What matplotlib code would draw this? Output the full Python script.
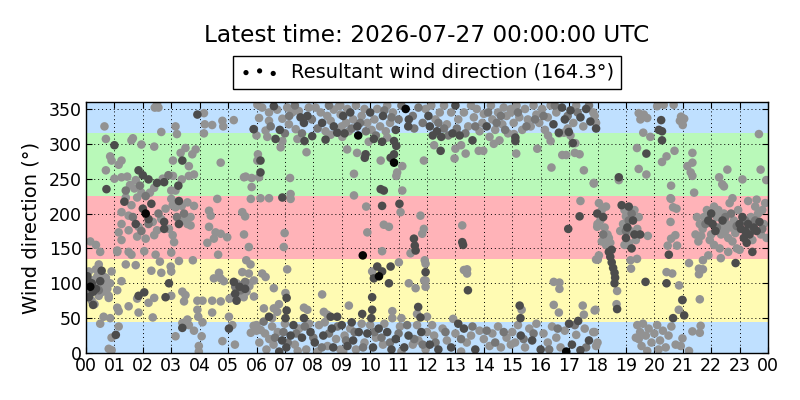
import matplotlib
matplotlib.use("Agg")
import matplotlib.pyplot as plt

# ---- data: (hour of day, wind direction deg, shade code) ----
# shade codes: 'l' light gray, 'm' mid gray, 'd' dark gray, 'k' black
obs_00_03 = [
    (2.42, 352), (2.55, 352), (2.5, 358), (0.65, 325), (2.65, 317), (0.7, 307), (1.6, 305), (1.65, 308),
    (1.0, 298, 'd'), (1.95, 299), (2.4, 296), (0.85, 282), (0.9, 276), (1.25, 276), (1.15, 270), (0.7, 262),
    (1.85, 262, 'd'), (1.0, 250), (1.25, 252), (1.45, 253), (1.75, 248), (2.0, 255, 'd'), (2.2, 249, 'd'),
    (2.7, 250), (2.75, 245, 'd'), (2.5, 244, 'd'), (0.72, 235, 'd'), (1.55, 241), (1.7, 236), (2.4, 237),
    (1.95, 230), (1.4, 223), (1.8, 223), (2.25, 230), (3.0, 233), (1.35, 217, 'd'), (1.6, 212), (2.3, 214, 'd'),
    (2.8, 207), (3.05, 212), (2.0, 207, 'd'), (1.25, 202), (2.1, 200, 'k'), (2.2, 192, 'd'), (1.5, 197),
    (2.65, 192), (2.75, 188, 'd'), (1.25, 185), (1.75, 185, 'd'), (2.35, 188), (1.5, 176), (1.85, 181),
    (2.5, 176), (1.15, 173), (2.75, 178, 'd'), (1.8, 167), (2.4, 169), (2.1, 164), (3.05, 169), (1.25, 162),
    (0.15, 160), (0.35, 155), (1.1, 147), (0.5, 145), (1.1, 145), (1.5, 145), (1.6, 141), (2.05, 146),
    (2.45, 141), (3.0, 144), (2.6, 131), (0.45, 127), (1.4, 127), (1.75, 126), (0.1, 117), (0.35, 120),
    (0.55, 118, 'd'), (0.9, 117), (2.3, 118), (2.65, 115), (3.0, 117),
    (0.05, 108), (0.1, 102, 'd'), (0.15, 95, 'k'), (0.2, 100, 'd'), (0.05, 90), (0.25, 88, 'd'), (0.3, 105),
    (0.35, 92, 'd'), (0.4, 98), (0.45, 82), (0.5, 103, 'd'), (0.55, 95), (0.6, 88), (0.65, 100), (0.7, 108),
    (0.75, 92), (0.8, 82), (0.85, 100), (0.1, 80, 'd'), (0.2, 75), (0.3, 70), (0.05, 110, 'd'), (0.4, 110),
    (0.6, 110), (1.1, 90), (1.25, 103), (1.85, 82, 'd'), (2.05, 87, 'd'), (1.8, 78), (2.8, 80, 'd'),
    (2.4, 79), (3.0, 82), (0.25, 69, 'd'), (0.8, 79), (1.5, 67), (1.1, 65), (2.2, 72), (1.15, 60),
    (0.62, 52), (0.85, 50), (0.5, 42), (1.85, 58), (2.35, 51), (1.15, 38), (1.05, 26, 'd'), (0.9, 22),
    (0.8, 6), (0.9, 4),
    (1.9, 240, 'm'), (2.1, 225, 'm'), (1.65, 195, 'm'), (2.55, 200, 'm'), (1.95, 175, 'm'), (0.2, 98, 'm'),
    (0.45, 90, 'm'), (0.15, 85, 'm'), (2.2, 185, 'm'), (1.4, 233, 'm'), (2.9, 255, 'm'),
]
obs_03_06 = [
    (3.92, 342, 'd'), (4.15, 344), (4.18, 328), (4.44, 327), (4.8, 333), (4.83, 325), (5.2, 334), (3.15, 325),
    (3.2, 314), (4.15, 315), (5.9, 321, 'd'), (6.0, 312), (3.5, 294), (3.86, 292), (3.33, 287), (3.74, 285),
    (3.06, 276), (3.39, 276, 'd'), (3.62, 268), (4.74, 273), (6.03, 276), (3.06, 254), (3.37, 249),
    (3.62, 254), (3.8, 256), (5.56, 252), (5.62, 253), (5.83, 251), (3.25, 240, 'd'), (3.15, 233),
    (5.83, 238), (3.0, 221), (3.27, 218, 'd'), (3.57, 216), (3.8, 211), (3.15, 209), (3.37, 211),
    (4.62, 221), (5.8, 221), (4.33, 204), (4.39, 197), (5.5, 202), (5.6, 196), (3.68, 195), (3.45, 190),
    (3.57, 185), (3.27, 185, 'd'), (3.68, 183), (2.92, 178), (4.33, 181), (4.56, 173), (4.74, 171),
    (4.97, 166), (5.56, 170), (3.1, 159), (4.27, 158), (4.5, 164), (5.73, 152), (4.65, 141), (3.27, 132),
    (3.76, 133), (5.64, 133), (5.79, 127), (2.98, 124), (4.68, 115), (5.5, 116), (5.73, 114), (4.5, 107),
    (4.74, 107), (4.85, 103),
    (5.2, 102, 'd'), (5.3, 100), (5.4, 95, 'd'), (5.5, 98), (5.6, 92, 'd'), (5.7, 100), (5.35, 90),
    (5.25, 85, 'd'), (5.45, 82), (5.55, 80), (5.65, 88), (5.75, 96), (5.15, 80), (5.3, 75, 'd'), (5.05, 78),
    (2.92, 100, 'd'), (3.39, 88), (3.5, 83), (3.45, 74), (3.92, 75), (4.1, 75), (4.44, 75), (4.74, 74),
    (3.92, 62), (4.44, 58), (5.03, 52), (3.95, 52), (3.57, 48), (3.39, 43), (3.62, 40), (3.8, 32),
    (4.1, 44), (3.39, 36, 'd'), (3.15, 24), (4.07, 24), (5.03, 35, 'd'), (5.15, 40), (4.8, 17), (5.24, 12),
    (5.9, 39), (6.0, 32), (3.97, 10), (3.97, 2), (5.8, 29),
    (5.45, 90, 'm'), (5.6, 102, 'm'), (5.25, 95, 'm'), (3.45, 200, 'm'), (3.2, 195, 'm'),
]
obs_06_09 = [
    (6.03, 356), (6.2, 352), (6.44, 345), (6.61, 354, 'd'), (6.44, 333), (6.09, 337), (5.91, 321),
    (6.32, 319), (6.38, 310), (6.67, 307, 'd'), (6.82, 320, 'd'), (6.91, 304), (6.73, 349), (6.91, 336),
    (7.08, 352), (7.26, 345), (7.49, 347), (7.55, 338, 'd'), (7.67, 330, 'd'), (7.79, 340, 'd'), (7.84, 352),
    (7.14, 328), (7.38, 321), (7.44, 307), (7.69, 304, 'd'), (7.96, 311, 'd'), (8.08, 352), (8.26, 345),
    (8.31, 330, 'd'), (8.49, 340), (8.61, 333), (8.72, 325, 'd'), (8.43, 318), (8.43, 306, 'd'), (8.61, 313),
    (8.84, 316, 'd'), (8.96, 342), (8.9, 354), (8.72, 349),
    (6.05, 285), (6.14, 276, 'd'), (6.14, 259, 'd'), (6.09, 252), (6.85, 295), (7.76, 288), (7.18, 251),
    (6.14, 222), (6.44, 222), (6.91, 223, 'd'), (7.2, 228), (7.2, 221), (6.99, 172), (6.96, 152),
    (7.08, 120), (6.2, 114), (6.32, 109), (5.91, 104), (6.61, 93), (7.02, 86), (7.06, 79, 'd'), (5.91, 81),
    (8.31, 84), (6.26, 64), (6.79, 70), (6.61, 64), (6.73, 59), (7.06, 61, 'd'), (7.67, 65), (7.79, 62),
    (8.37, 59), (6.44, 52, 'd'), (6.55, 50), (7.02, 50, 'd'), (7.67, 50, 'd'), (8.49, 55), (8.61, 52, 'd'),
    (8.84, 52, 'd'),
    (6.0, 40), (6.15, 33), (6.3, 28), (6.45, 20), (6.6, 12), (6.75, 30), (6.9, 18, 'd'), (7.05, 8, 'd'),
    (7.2, 25, 'd'), (7.35, 12), (7.5, 35), (7.6, 22, 'd'), (7.75, 5), (7.9, 30, 'd'), (8.05, 15, 'd'),
    (8.2, 40), (8.35, 25, 'd'), (8.5, 10), (8.65, 35, 'd'), (8.8, 20), (8.95, 5), (6.1, 15), (6.55, 38),
    (7.0, 42), (7.3, 40, 'd'), (7.45, 3), (7.85, 42), (8.15, 2), (8.4, 44), (8.7, 8, 'd'), (6.35, 5),
    (6.8, 2, 'd'),
    (7.15, 340, 'm'), (7.35, 355, 'm'), (7.6, 315, 'm'), (7.95, 335, 'm'), (8.15, 322, 'm'), (8.55, 355, 'm'),
    (6.5, 325, 'm'), (7.0, 315, 'm'), (6.95, 30, 'm'), (7.1, 15, 'm'), (7.4, 28, 'm'), (7.7, 38, 'm'),
    (8.0, 22, 'm'), (8.3, 8, 'm'), (8.55, 28, 'm'), (8.85, 38, 'm'), (6.65, 22, 'm'), (6.25, 45, 'm'),
]
obs_09_12 = [
    (8.95, 355), (9.05, 340, 'd'), (9.0, 325), (9.15, 330), (9.2, 350), (9.3, 345, 'd'), (9.4, 335),
    (9.5, 355), (9.55, 325, 'd'), (9.58, 312, 'k'), (9.1, 315, 'd'), (9.25, 318), (9.7, 340), (9.8, 350),
    (9.9, 330), (10.0, 345, 'd'), (10.05, 320), (10.15, 335), (10.25, 350), (10.35, 325), (10.45, 340, 'd'),
    (10.55, 318), (10.6, 355), (10.7, 330), (10.8, 345), (10.9, 320, 'd'), (11.25, 350, 'k'),
    (11.36, 335, 'd'), (11.34, 325, 'd'),
    (9.19, 292), (9.54, 287), (9.84, 285, 'd'), (9.81, 280, 'd'), (10.37, 276), (10.72, 280, 'd'),
    (10.84, 285, 'd'), (10.84, 273, 'k'), (10.95, 259), (10.92, 254), (11.13, 268), (9.43, 257),
    (10.42, 303, 'd'), (10.84, 304, 'd'), (10.92, 297, 'd'), (10.6, 309), (10.13, 307, 'd'), (9.02, 310),
    (9.95, 303), (10.37, 235, 'd'), (10.48, 233, 'd'), (11.13, 233), (9.43, 226),
    (9.86, 210), (10.42, 211, 'd'), (11.03, 214, 'd'), (11.07, 202), (11.77, 197), (10.48, 184),
    (10.66, 181), (9.9, 173), (11.83, 171), (11.54, 164, 'd'), (11.57, 154, 'd'), (11.6, 147, 'd'),
    (11.42, 143), (10.42, 146), (9.74, 140, 'k'),
    (11.01, 130), (11.92, 133), (10.25, 124, 'd'), (10.07, 117), (10.31, 110, 'k'), (10.42, 117, 'd'),
    (10.72, 124, 'd'), (10.13, 107, 'd'), (10.66, 100, 'd'), (11.36, 100), (11.6, 93), (11.9, 104),
    (10.07, 80, 'd'), (9.25, 68), (10.78, 60), (11.69, 66, 'd'), (10.07, 62, 'd'), (9.72, 56, 'd'),
    (10.04, 50, 'd'), (11.65, 56), (11.77, 51, 'd'), (10.78, 50), (11.1, 50),
    (9.0, 40, 'd'), (9.1, 25), (9.2, 10, 'd'), (9.3, 35), (9.4, 18, 'd'), (9.5, 5), (9.6, 30, 'd'),
    (9.7, 42), (9.8, 15), (9.9, 28, 'd'), (10.0, 40), (10.1, 8, 'd'), (10.2, 22), (10.3, 35, 'd'),
    (10.45, 12), (10.6, 30, 'd'), (10.75, 5, 'd'), (10.9, 20, 'd'), (11.05, 38), (11.2, 8, 'd'),
    (11.35, 25, 'd'), (11.5, 12), (11.65, 40), (11.8, 30, 'd'), (11.95, 5), (9.05, 2), (9.35, 44, 'd'),
    (10.5, 42), (11.1, 2), (11.7, 18),
    (9.35, 322, 'm'), (9.65, 330, 'm'), (9.85, 318, 'm'), (10.2, 312, 'm'), (10.5, 348, 'm'),
    (10.75, 338, 'm'), (11.0, 335, 'm'), (11.1, 355, 'm'), (11.5, 340, 'm'), (11.7, 352, 'm'),
    (11.55, 322, 'm'), (11.85, 330, 'm'), (9.15, 18, 'm'), (9.45, 30, 'm'), (9.75, 8, 'm'), (10.15, 30, 'm'),
    (10.4, 22, 'm'), (10.7, 15, 'm'), (11.0, 28, 'm'), (11.3, 40, 'm'), (11.55, 20, 'm'), (11.85, 12, 'm'),
]
obs_12_15 = [
    (11.95, 350), (12.05, 340, 'd'), (12.1, 325, 'd'), (12.2, 312, 'd'), (12.3, 335), (12.35, 318, 'd'),
    (12.45, 345), (12.5, 310, 'd'), (12.6, 355), (12.7, 328), (12.85, 345), (12.9, 315, 'd'),
    (13.0, 355, 'd'), (13.1, 335), (13.15, 312, 'd'), (13.3, 345), (13.45, 325), (13.55, 355), (13.65, 338),
    (13.75, 350), (13.85, 318), (13.95, 330), (14.0, 343), (14.1, 325, 'd'), (14.2, 310), (14.25, 355),
    (14.3, 335), (14.4, 320), (14.5, 345), (14.55, 305), (14.65, 328), (14.7, 352), (14.8, 340),
    (14.85, 315), (14.95, 350), (12.15, 355), (13.6, 305, 'd'), (14.35, 300), (13.2, 298), (12.25, 298),
    (12.48, 290, 'd'), (13.0, 293), (12.97, 279), (13.36, 286), (13.82, 290), (13.98, 290), (11.89, 276),
    (13.24, 183), (13.24, 159, 'd'), (13.27, 155, 'd'), (11.89, 178),
    (13.3, 119), (13.41, 120), (13.41, 114), (13.44, 90, 'd'), (11.95, 128), (11.95, 116, 'd'),
    (11.95, 104), (11.95, 95),
    (12.92, 49), (12.0, 52), (12.18, 40), (12.0, 30), (12.1, 12, 'd'), (12.25, 25), (12.4, 5, 'd'),
    (12.55, 35), (12.7, 18), (12.85, 8, 'd'), (13.0, 28), (13.1, 42, 'd'), (13.3, 35, 'd'), (13.4, 15),
    (13.55, 25), (13.7, 5, 'd'), (13.85, 32), (14.0, 20), (14.2, 10), (14.3, 28), (14.5, 38), (14.6, 8),
    (14.8, 22), (14.95, 12), (13.2, 2),
    (12.4, 330, 'm'), (12.75, 312, 'm'), (13.05, 322, 'm'), (13.35, 315, 'm'), (13.7, 325, 'm'),
    (14.15, 345, 'm'), (14.45, 330, 'm'), (14.75, 320, 'm'), (14.6, 340, 'm'), (12.6, 322, 'm'),
    (12.3, 15, 'm'), (12.65, 30, 'm'), (13.2, 20, 'm'), (13.6, 38, 'm'), (14.1, 32, 'm'), (14.4, 15, 'm'),
    (14.7, 30, 'm'),
]
obs_15_18 = [
    (14.95, 345), (15.05, 330), (15.15, 355), (15.25, 338), (15.35, 320), (15.45, 350), (15.55, 335),
    (15.65, 325), (15.75, 355), (15.85, 342), (15.95, 330), (16.05, 350), (16.15, 320), (16.25, 338),
    (16.35, 355), (16.45, 328, 'd'), (16.55, 345), (16.65, 315), (16.75, 352, 'd'), (16.85, 335, 'd'),
    (16.95, 322), (17.05, 348, 'd'), (17.15, 330), (17.25, 355), (17.4, 338, 'd'), (17.5, 325),
    (17.6, 350, 'd'), (17.75, 332, 'd'), (17.85, 345), (17.95, 322, 'd'),
    (15.11, 309, 'd'), (15.11, 304, 'd'), (15.06, 314), (16.26, 312), (16.35, 304), (16.64, 316, 'd'),
    (16.82, 316), (17.05, 312), (16.99, 317, 'd'), (17.13, 301, 'd'), (17.22, 301), (15.88, 293),
    (15.14, 286), (16.76, 284), (16.9, 284), (17.2, 287), (17.37, 285), (16.38, 266), (17.52, 262),
    (17.87, 243),
    (17.4, 218), (17.37, 196, 'd'), (17.99, 200, 'd'), (17.99, 181), (16.97, 178, 'd'), (17.95, 134),
    (16.46, 102), (16.66, 101), (16.66, 92), (15.26, 68, 'd'), (15.33, 62), (16.46, 69), (16.64, 58),
    (17.48, 68), (17.52, 55), (17.9, 61), (15.29, 50, 'd'), (17.32, 46, 'd'),
    (15.0, 30), (15.1, 15), (15.2, 40), (15.3, 25, 'd'), (15.45, 8), (15.6, 35), (15.7, 18, 'd'),
    (15.85, 42), (16.0, 5, 'd'), (16.1, 28), (16.25, 15), (16.4, 38), (16.55, 22), (16.7, 8), (16.85, 32),
    (17.0, 42, 'd'), (17.1, 12, 'd'), (17.25, 26), (17.4, 4, 'd'), (17.55, 35), (17.7, 18, 'd'),
    (17.85, 30), (17.95, 10), (16.9, 2, 'k'),
    (15.2, 345, 'm'), (15.5, 325, 'm'), (15.8, 335, 'm'), (16.1, 340, 'm'), (16.5, 355, 'm'),
    (16.95, 340, 'm'), (17.3, 345, 'm'), (17.7, 355, 'm'), (15.4, 20, 'm'), (15.75, 28, 'm'),
    (16.3, 5, 'm'), (16.6, 35, 'm'), (17.2, 40, 'm'), (17.6, 8, 'm'),
]
obs_18_21 = [
    (17.9, 340), (17.95, 330), (19.45, 344), (19.63, 342), (19.51, 335), (19.75, 337), (20.24, 334, 'd'),
    (20.1, 354), (20.33, 356), (20.68, 356), (20.9, 333), (20.94, 339),
    (19.61, 316), (19.86, 310), (20.16, 320, 'd'), (20.27, 318, 'd'), (20.27, 305, 'd'), (19.39, 294),
    (19.72, 286, 'd'), (20.71, 290), (20.43, 282), (20.27, 274), (19.45, 264), (19.72, 256),
    (18.75, 252, 'd'), (18.75, 248), (17.87, 244), (20.59, 240), (20.57, 222),
    (18.05, 215), (18.15, 205), (18.2, 195, 'd'), (18.3, 210), (18.1, 190), (18.25, 180), (18.35, 170),
    (18.0, 185), (18.15, 160), (18.3, 155), (18.45, 158), (18.5, 148, 'd'), (18.4, 165), (18.05, 140),
    (18.85, 212, 'd'), (18.95, 205), (19.0, 196), (19.1, 210, 'd'), (18.9, 185), (19.05, 180, 'd'),
    (19.15, 175), (19.25, 190, 'd'), (19.3, 170, 'd'), (19.0, 165, 'd'), (19.1, 158), (19.2, 150, 'd'),
    (19.35, 162), (19.3, 205), (19.4, 178), (18.95, 155), (19.5, 170, 'd'), (19.45, 195), (18.8, 175),
    (19.77, 168), (20.57, 188), (20.59, 221), (20.66, 209), (20.78, 207), (20.74, 169), (20.59, 164),
    (20.8, 154), (20.51, 141, 'd'), (20.47, 154), (18.01, 134),
    (18.4, 145, 'd'), (18.45, 138, 'd'), (18.5, 130, 'd'), (18.55, 122, 'd'), (18.6, 115, 'd'),
    (18.62, 108, 'd'), (18.6, 100, 'd'), (19.16, 133), (19.18, 121), (19.39, 135),
    (19.69, 102, 'd'), (20.43, 116), (20.63, 114), (20.43, 100, 'd'), (20.98, 76), (18.69, 89),
    (18.67, 70), (18.69, 63, 'd'), (17.93, 62), (20.86, 62), (20.66, 50, 'd'),
    (19.4, 40), (19.5, 30), (19.6, 42), (19.45, 20), (19.7, 25), (19.8, 35), (19.9, 15), (19.55, 10),
    (20.0, 28), (20.1, 40), (20.2, 18), (20.3, 32), (20.4, 8), (20.5, 25), (20.6, 38), (20.75, 12),
    (19.75, 3), (20.15, 5), (19.35, 22), (17.9, 30), (18.0, 15),
    (19.1, 190, 'm'), (19.2, 200, 'm'), (18.2, 170, 'm'), (19.0, 175, 'm'),
]
obs_21_24 = [
    (20.99, 333), (21.05, 336), (21.0, 327), (23.68, 314),
    (21.34, 287), (21.16, 268), (21.34, 273), (21.28, 259), (21.34, 254), (22.57, 263), (23.74, 263),
    (22.28, 252), (22.39, 242), (22.45, 239), (23.1, 249), (23.94, 248), (21.4, 230),
    (21.5, 195), (21.6, 185), (21.7, 178), (21.75, 195), (21.85, 205), (21.9, 190, 'd'), (22.0, 200, 'd'),
    (22.05, 185, 'd'), (22.1, 210), (22.15, 175, 'd'), (22.2, 195), (22.25, 205), (22.3, 180),
    (22.35, 170), (22.4, 190, 'd'), (22.45, 200), (22.5, 175), (22.55, 185), (22.6, 165), (22.65, 215),
    (22.7, 180), (22.75, 160), (22.8, 190), (22.85, 172), (22.9, 150), (22.95, 205), (23.0, 185, 'd'),
    (23.05, 178, 'd'), (23.1, 195, 'd'), (23.15, 165, 'd'), (23.2, 175, 'd'), (23.25, 158, 'd'),
    (23.3, 185, 'd'), (23.35, 170, 'd'), (23.4, 195), (23.45, 162), (23.5, 180, 'd'), (23.55, 210),
    (23.6, 175, 'd'), (23.65, 200), (23.7, 188, 'd'), (23.75, 170), (23.8, 205), (23.85, 185),
    (23.9, 215), (23.95, 165), (21.45, 170), (21.55, 160), (21.95, 162), (22.1, 155), (22.3, 150),
    (21.9, 140), (22.6, 145), (23.0, 148), (23.45, 145, 'd'), (22.75, 222), (23.3, 218), (23.6, 220),
    (21.65, 168), (22.0, 170),
    (21.22, 129), (21.71, 133), (21.57, 121), (21.71, 120), (21.57, 113), (22.86, 129, 'd'), (22.34, 136),
    (21.6, 77), (20.99, 76, 'd'), (21.05, 54, 'd'), (20.87, 97),
    (21.63, 39), (21.6, 29), (21.34, 31), (20.99, 21), (20.93, 10), (21.22, 3),
    (22.2, 180, 'm'), (22.5, 195, 'm'), (22.9, 182, 'm'), (23.2, 190, 'm'), (23.4, 175, 'm'),
    (23.55, 190, 'm'), (23.8, 178, 'm'), (22.7, 200, 'm'), (21.8, 185, 'm'),
]

shade_gray = {'l': '#929292', 'm': '#767676', 'd': '#4c4c4c', 'k': '#050505'}

band_edges = [0, 45, 135, 225, 315, 360]
band_colors = ['#bfe0ff', '#fffbb3', '#ffb3b8', '#b9f9b9', '#bfe0ff']

hour_ticks = list(range(0, 25))
hour_labels = ["%02d" % (h % 24) for h in hour_ticks]
dir_ticks = [0, 50, 100, 150, 200, 250, 300, 350]

title_text = "Latest time: 2026-07-27 00:00:00 UTC"
legend_text = "Resultant wind direction (164.3\u00b0)"

# ---- build ----
all_obs = obs_00_03 + obs_03_06 + obs_06_09 + obs_09_12 + obs_12_15 + obs_15_18 + obs_18_21 + obs_21_24
order = {'l': 0, 'm': 1, 'd': 2, 'k': 3}
all_obs = sorted(all_obs, key=lambda o: order[o[2] if len(o) > 2 else 'l'])
xs = [o[0] for o in all_obs]
ys = [o[1] for o in all_obs]
cs = [shade_gray[o[2] if len(o) > 2 else 'l'] for o in all_obs]

fig = plt.figure(figsize=(8, 4), dpi=100)
ax = fig.add_axes([86 / 800, 1 - 353 / 400, 682 / 800, 251 / 400])

for lo, hi, col in zip(band_edges[:-1], band_edges[1:], band_colors):
    ax.axhspan(lo, hi, color=col, zorder=0, lw=0)

ax.scatter(xs, ys, s=38, c=cs, edgecolors='none', zorder=3)

ax.set_xlim(0, 24)
ax.set_ylim(0, 360)
ax.set_xticks(hour_ticks)
ax.set_xticklabels(hour_labels)
ax.set_yticks(dir_ticks)
ax.tick_params(direction='in', top=True, right=True, length=4, labelsize=12.5, pad=3)
ax.grid(True, color='black', linestyle=(0, (1, 3)), linewidth=0.7, zorder=1)
ax.set_axisbelow(False)
for sp in ax.spines.values():
    sp.set_linewidth(1.0)
    sp.set_zorder(5)
ax.set_ylabel("Wind direction (\u00b0)", fontsize=14, labelpad=6)

handle = ax.scatter([], [], s=14, c='black', edgecolors='none')
leg = ax.legend([handle], [legend_text], loc='lower center', bbox_to_anchor=(0.5, 1.015),
                scatterpoints=3, fontsize=14, fancybox=False, framealpha=1,
                edgecolor='black', borderpad=0.35, handletextpad=0.6)
leg.get_frame().set_linewidth(1.0)

fig.text(427 / 800, 1 - 35 / 400, title_text, ha='center', va='center', fontsize=16.7)

fig.savefig("out.png", dpi=100, facecolor='white')
